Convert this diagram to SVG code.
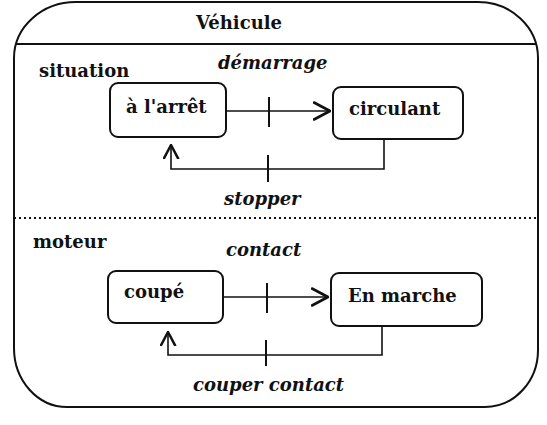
<svg xmlns="http://www.w3.org/2000/svg" width="547" height="425" viewBox="0 0 547 425">
<defs>
<style>
.lbl{font-family:"DejaVu Serif","Liberation Serif",serif;font-weight:bold;font-size:18px;fill:#111}
.ev{font-style:italic}
.box{fill:#fff;stroke:#111;stroke-width:2}
.con{fill:none;stroke:#111;stroke-width:1.6}
.tick{stroke:#111;stroke-width:2}
</style>
<marker id="arr" viewBox="0 0 18 20" refX="17" refY="10" markerWidth="18" markerHeight="20" markerUnits="userSpaceOnUse" orient="auto">
<path d="M1,1.5 L17,10 L1,18.5" fill="none" stroke="#111" stroke-width="2.6" stroke-linejoin="round" stroke-linecap="round"/>
</marker>
<marker id="arr2" viewBox="0 0 18 20" refX="17" refY="10" markerWidth="15" markerHeight="17" markerUnits="userSpaceOnUse" orient="auto">
<path d="M1,1.5 L17,10 L1,18.5" fill="none" stroke="#111" stroke-width="3" stroke-linejoin="round" stroke-linecap="round"/>
</marker>
</defs>
<rect width="547" height="425" fill="#fff"/>
<g id="vehicule">
<path d="M76,2 H478 A60,56 0 0 1 538,58 V350 A53,57 0 0 1 485,407 H67 A53,59 0 0 1 14,348 V58 A62,56 0 0 1 76,2 Z" fill="none" stroke="#111" stroke-width="2"/>
<line x1="16" y1="44" x2="536" y2="44" stroke="#111" stroke-width="2"/>
<line x1="14" y1="218" x2="538" y2="218" stroke="#111" stroke-width="2" stroke-dasharray="2,3"/>
<text class="lbl" x="196" y="29">Véhicule</text>
<text class="lbl" x="39" y="77">situation</text>
<text class="lbl" x="33" y="248">moteur</text>
</g>
<g id="arret">
<rect class="box" x="110" y="83" width="116" height="54" rx="8"/>
<text class="lbl" x="126" y="113">à l'arrêt</text>
</g>
<g id="circulant">
<rect class="box" x="333" y="87" width="130" height="52" rx="8"/>
<text class="lbl" x="349" y="115">circulant</text>
</g>
<g id="coupe">
<rect class="box" x="108" y="271" width="115" height="52" rx="8"/>
<text class="lbl" x="124" y="298">coupé</text>
</g>
<g id="enmarche">
<rect class="box" x="331" y="273" width="151" height="53" rx="8"/>
<text class="lbl" x="348" y="302">En marche</text>
</g>
<g id="connectors">
<path class="con" d="M226,111 H330" marker-end="url(#arr)"/>
<line class="tick" x1="269" y1="97" x2="269" y2="127"/>
<text class="lbl ev" x="218" y="69">démarrage</text>
<path class="con" d="M384,139 V169 H171 V145" marker-end="url(#arr2)"/>
<line class="tick" x1="268" y1="155" x2="268" y2="182"/>
<text class="lbl ev" x="224" y="205">stopper</text>
<path class="con" d="M223,297 H328" marker-end="url(#arr)"/>
<line class="tick" x1="267" y1="283" x2="267" y2="313"/>
<text class="lbl ev" x="226" y="256">contact</text>
<path class="con" d="M382,326 V355 H168 V332" marker-end="url(#arr2)"/>
<line class="tick" x1="266" y1="340" x2="266" y2="366"/>
<text class="lbl ev" x="193" y="391">couper contact</text>
</g>
</svg>
